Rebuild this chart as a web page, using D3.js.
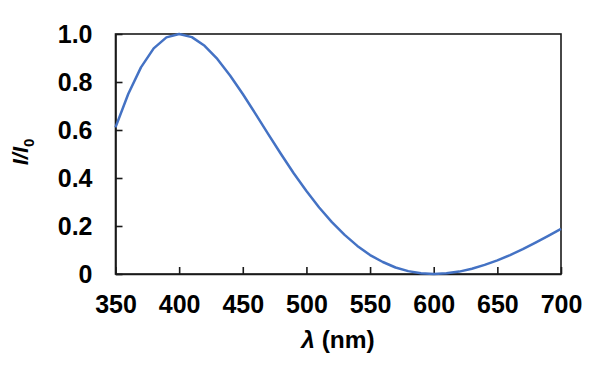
<!DOCTYPE html>
<html>
<head>
<meta charset="utf-8">
<script src="https://cdn.jsdelivr.net/npm/d3@7"></script>
<style>
  html, body { margin: 0; padding: 0; background: #fff; }
  svg { display: block; }
  text { font-family: "Liberation Sans", Arial, sans-serif; font-weight: bold; fill: #000; }
</style>
</head>
<body>
<svg id="chart" width="600" height="380"></svg>
<script>
// Data (wavelength in nm, normalised intensity)
const wavelengths = [350,360,370,380,390,400,410,420,430,440,450,460,470,480,490,500,510,520,530,540,550,560,570,580,590,600,610,620,630,640,650,660,670,680,690,700];
const intensity = [0.611,0.750,0.861,0.940,0.986,1.000,0.987,0.951,0.896,0.827,0.750,0.667,0.583,0.500,0.420,0.346,0.277,0.216,0.163,0.117,0.079,0.050,0.027,0.012,0.003,0.000,0.003,0.010,0.022,0.038,0.057,0.079,0.104,0.131,0.159,0.188];
const xTicks = [350,400,450,500,550,600,650,700];
const yTicks = [0,0.2,0.4,0.6,0.8,1.0];
const yTickLabels = ["0","0.2","0.4","0.6","0.8","1.0"];

const svg = d3.select("#chart");
const L = 115.5, R = 561, T = 34, B = 274;

const x = d3.scaleLinear().domain([350,700]).range([L,R]);
const y = d3.scaleLinear().domain([0,1]).range([B,T]);

// frame
svg.append("rect").attr("x",L).attr("y",T).attr("width",R-L).attr("height",B-T)
  .attr("fill","none").attr("stroke","#1a1a1a").attr("stroke-width",1.6);

// x axis (ticks inward)
const xAxis = d3.axisBottom(x).tickValues(xTicks).tickSizeInner(-7).tickSizeOuter(0).tickPadding(21).tickFormat(d3.format("d"));
const gx = svg.append("g").attr("transform",`translate(0,${B})`).call(xAxis);
gx.select(".domain").attr("stroke","#1a1a1a").attr("stroke-width",1.6);
gx.selectAll(".tick line").attr("stroke","#1a1a1a").attr("stroke-width",1.6);
gx.selectAll(".tick text").attr("font-size","25px").attr("font-family","Liberation Sans, Arial, sans-serif").attr("font-weight","bold").attr("fill","#000");

// y axis (ticks inward)
const yAxis = d3.axisLeft(y).tickValues(yTicks).tickSizeInner(-7).tickSizeOuter(0).tickPadding(23)
  .tickFormat((d,i) => yTickLabels[i]);
const gy = svg.append("g").attr("transform",`translate(${L},0)`).call(yAxis);
gy.select(".domain").attr("stroke","#1a1a1a").attr("stroke-width",1.6);
gy.selectAll(".tick line").attr("stroke","#1a1a1a").attr("stroke-width",1.6);
gy.selectAll(".tick text").attr("font-size","25px").attr("font-family","Liberation Sans, Arial, sans-serif").attr("font-weight","bold").attr("fill","#000");

// curve
const line = d3.line().x((d,i) => x(wavelengths[i])).y(d => y(d));
svg.append("path").datum(intensity).attr("d",line)
  .attr("fill","none").attr("stroke","#4472C4").attr("stroke-width",2.5).attr("stroke-linejoin","round");

// x title
const xt = svg.append("text").attr("x",338).attr("y",348).attr("text-anchor","middle").attr("font-size","24.5px");
xt.append("tspan").attr("font-style","italic").text("λ");
xt.append("tspan").text(" (nm)");

// y title
const yt = svg.append("text").attr("transform","translate(28,152) rotate(-90)").attr("text-anchor","middle").attr("font-size","22px");
yt.append("tspan").attr("font-style","italic").text("I/I");
yt.append("tspan").attr("font-size","15px").attr("dy","6").text("0");
</script>
</body>
</html>
